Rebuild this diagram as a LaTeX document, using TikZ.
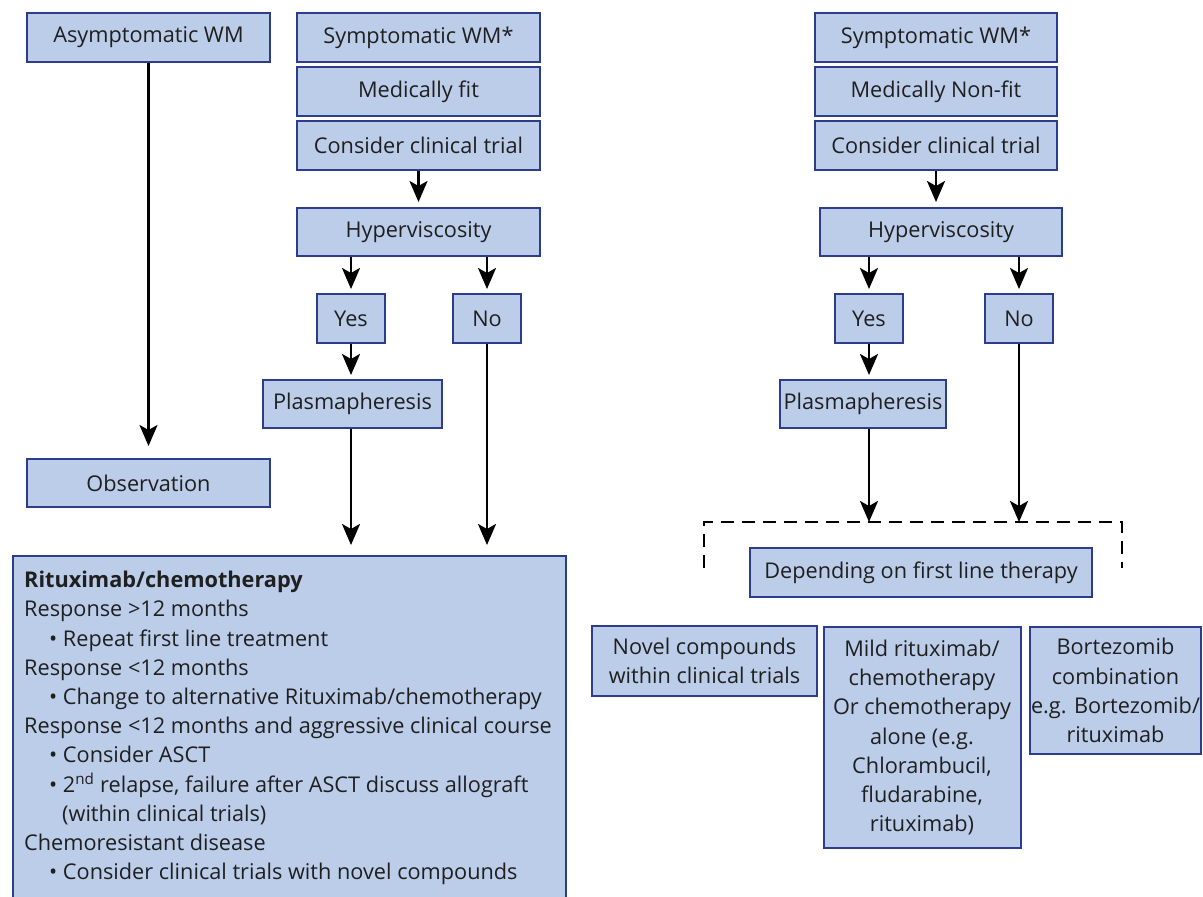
\documentclass[tikz,border=0pt]{standalone}
\usepackage{fontspec}
\setmainfont{Open Sans}
\usetikzlibrary{arrows.meta}
\definecolor{boxfill}{HTML}{BCCDEA}
\definecolor{boxline}{HTML}{2E3C8C}
\definecolor{ink}{HTML}{1F1F1F}
\newcommand\itm{\hspace*{25pt}\textbullet\ }
\begin{document}
\begin{tikzpicture}[x=1pt, y=-1pt,
  font=\fontsize{21.7}{29.2}\selectfont, text=ink,
  fbox/.style={draw=boxline, fill=boxfill, line width=2pt, inner sep=0pt, align=center},
  flow/.style={-{Stealth[width=18pt,length=21pt,inset=5pt]}, line width=2.5pt, draw=black},
  dashline/.style={line width=2pt, dash pattern=on 13pt off 8pt, draw=black}]
\useasboundingbox (0,0) rectangle (1203,897);

% left column: asymptomatic
\node[fbox, minimum width=243pt, minimum height=49pt] (asym) at (148.5,37.5) {Asymptomatic WM};
\node[fbox, minimum width=243pt, minimum height=48pt] (obs) at (148.5,483) {Observation};

% middle column: medically fit
\node[fbox, minimum width=243pt, minimum height=49pt] (symL) at (418.5,37.5) {Symptomatic WM*};
\node[fbox, minimum width=243pt, minimum height=49pt] (fitL) at (418.5,91.5) {Medically fit};
\node[fbox, minimum width=243pt, minimum height=49pt] (ctL) at (418.5,145.5) {Consider clinical trial};
\node[fbox, minimum width=243pt, minimum height=48pt] (hypL) at (418.5,232) {Hyperviscosity};
\node[fbox, minimum width=68pt, minimum height=49pt] (yesL) at (351,318.5) {Yes};
\node[fbox, minimum width=68pt, minimum height=49pt] (noL) at (487,318.5) {No};
\node[fbox, minimum width=179pt, minimum height=48pt] (plasL) at (352.5,404) {Plasmapheresis};

\node[fbox, anchor=north west, minimum width=553pt, minimum height=370pt] (big) at (12,555) {};
\node[anchor=north west, align=left, inner sep=0pt] (bigtxt) at (24,571) {%
\textbf{Rituximab/chemotherapy}\\
Response >12 months\\
\itm Repeat first line treatment\\
Response <12 months\\
\itm Change to alternative Rituximab/chemotherapy\\
Response <12 months and aggressive clinical course\\
\itm Consider ASCT\\
\itm 2\textsuperscript{nd} relapse, failure after ASCT discuss allograft\\
\hspace*{38pt}(within clinical trials)\\
Chemoresistant disease\\
\itm Consider clinical trials with novel compounds};

% right column: medically non-fit
\node[fbox, minimum width=242pt, minimum height=49pt] (symR) at (936,37.5) {Symptomatic WM*};
\node[fbox, minimum width=242pt, minimum height=49pt] (fitR) at (936,91.5) {Medically Non-fit};
\node[fbox, minimum width=242pt, minimum height=49pt] (ctR) at (936,145.5) {Consider clinical trial};
\node[fbox, minimum width=242pt, minimum height=48pt] (hypR) at (941,232) {Hyperviscosity};
\node[fbox, minimum width=68pt, minimum height=49pt] (yesR) at (869,318.5) {Yes};
\node[fbox, minimum width=68pt, minimum height=49pt] (noR) at (1019,318.5) {No};
\node[fbox, minimum width=166pt, minimum height=48pt] (plasR) at (863,404) {Plasmapheresis};

\coordinate (brBL) at (704,568);
\coordinate (brTL) at (704,522);
\coordinate (brTR) at (1122,522);
\coordinate (brBR) at (1122,568);

\node[fbox, minimum width=342pt, minimum height=49pt] (dep) at (921,572.5) {Depending on first line therapy};
\node[fbox, minimum width=225pt, minimum height=70pt] (novel) at (704.5,661) {Novel compounds\\within clinical trials};
\node[fbox, minimum width=197pt, minimum height=221pt] (mild) at (922,737.5) {Mild rituximab/\\chemotherapy\\Or chemotherapy\\alone (e.g.\\Chlorambucil,\\fludarabine,\\rituximab)};
\node[fbox, minimum width=171pt, minimum height=127pt] (bort) at (1115.5,690.5) {Bortezomib\\combination\\e.g. Bortezomib/\\rituximab};

% connectors
\draw[flow, shorten >=12pt] (asym) -- (obs);

\draw[flow, shorten >=5pt] (ctL) -- (ctL |- hypL.north);
\draw[flow, shorten >=4pt] (hypL.south -| yesL) -- (yesL);
\draw[flow, shorten >=4pt] (hypL.south -| noL) -- (noL);
\draw[flow, shorten >=4pt] (yesL) -- (yesL |- plasL.north);
\draw[flow, shorten >=10pt] (yesL |- plasL.south) -- (yesL |- big.north);
\draw[flow, shorten >=10pt] (noL) -- (noL |- big.north);

\draw[flow, shorten >=5pt] (ctR) -- (ctR |- hypR.north);
\draw[flow, shorten >=4pt] (hypR.south -| yesR) -- (yesR);
\draw[flow, shorten >=4pt] (hypR.south -| noR) -- (noR);
\draw[flow, shorten >=4pt] (yesR) -- (yesR |- plasR.north);
\draw[flow] (yesR |- plasR.south) -- (yesR |- brTL);
\draw[flow] (noR) -- (noR |- brTL);
\draw[dashline] (brBL) -- (brTL) -- (brTR) -- (brBR);
\end{tikzpicture}
\end{document}
